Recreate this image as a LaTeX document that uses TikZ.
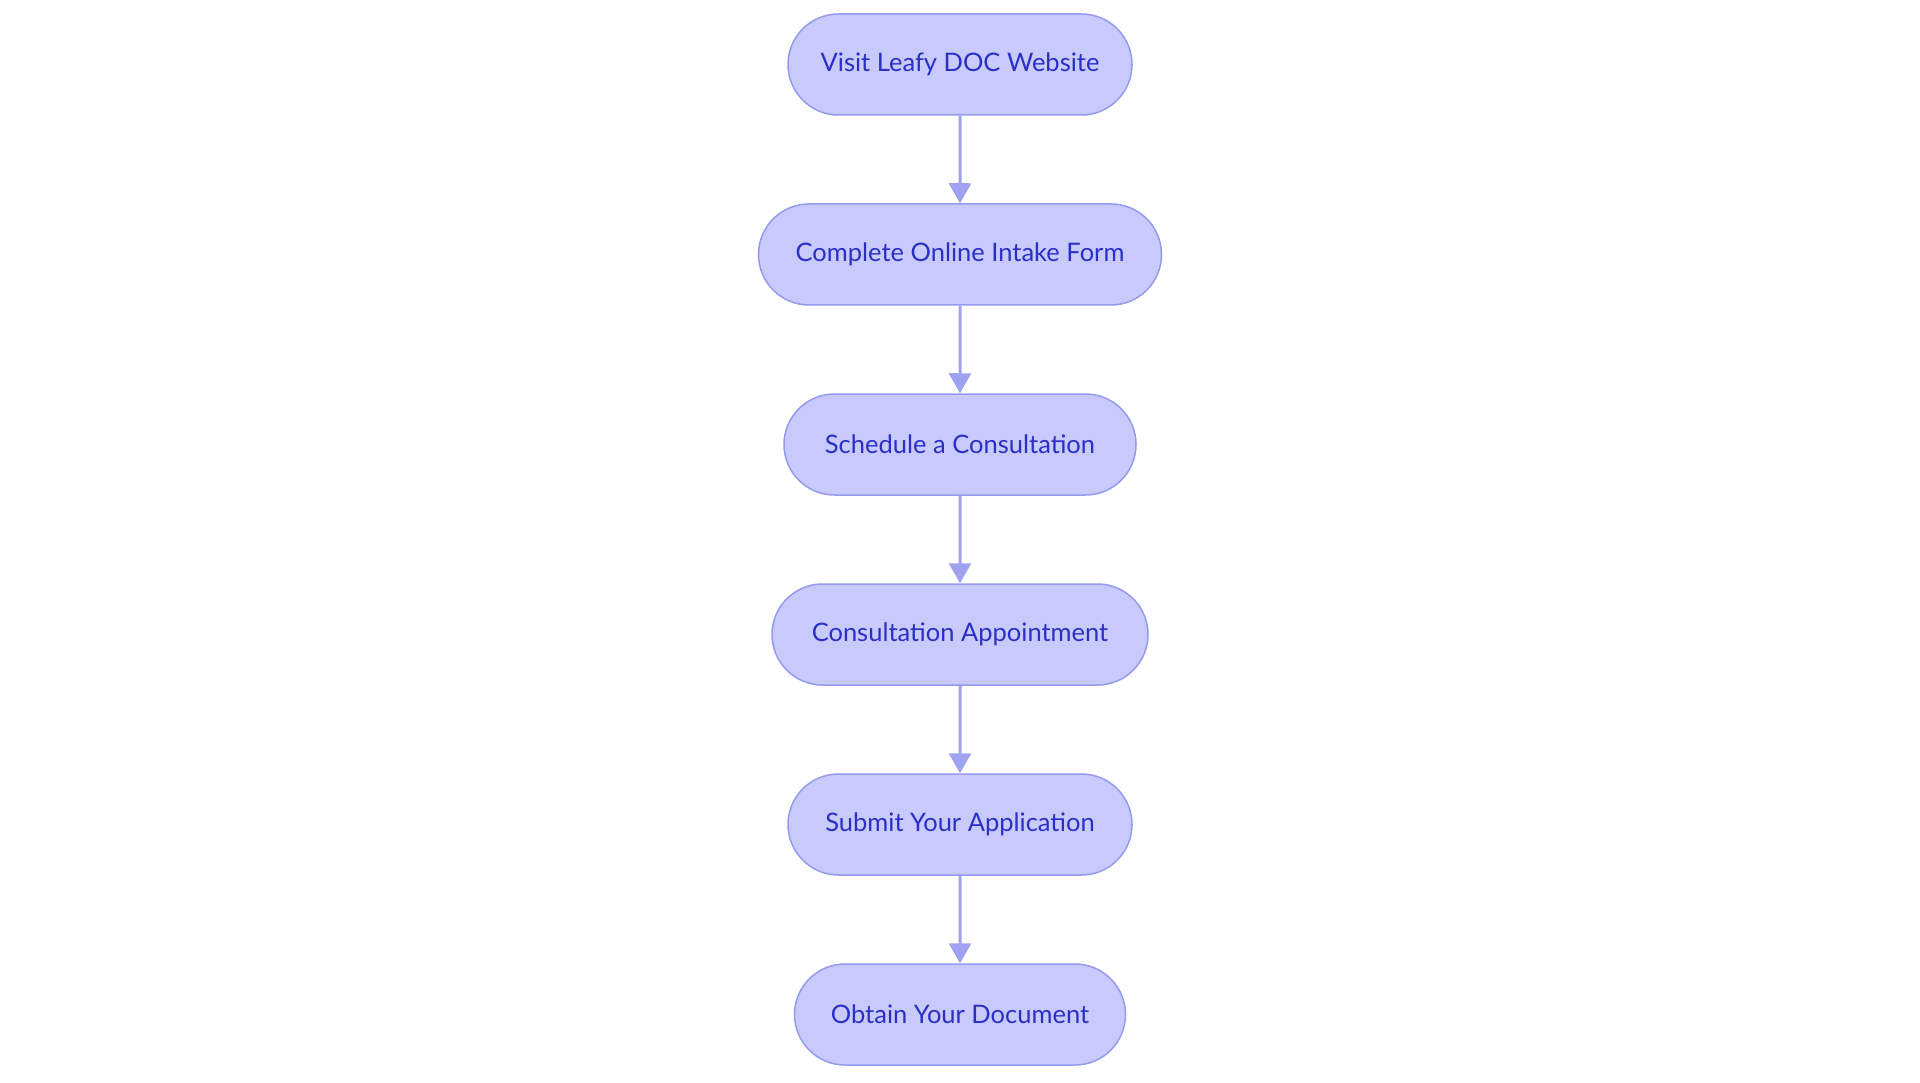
\documentclass[tikz,border=0pt]{standalone}
\usepackage{fontspec}
\setmainfont{Lato}
\usetikzlibrary{arrows.meta,shapes.misc}
\definecolor{boxfill}{HTML}{C9CAFC}
\definecolor{boxline}{HTML}{959AEE}
\definecolor{arrowcol}{HTML}{9EA2F0}
\definecolor{txtcol}{HTML}{2A2FC6}
\tikzset{
  stepbox/.style={rounded rectangle, draw=boxline, line width=1.5pt, fill=boxfill,
    minimum height=101pt, text=txtcol, font=\fontsize{25.5}{30}\selectfont, inner sep=0pt},
  flowarrow/.style={draw=arrowcol, line width=3pt, -{Triangle[width=22pt,length=20pt]}}
}
\begin{document}
\begin{tikzpicture}[x=1pt,y=1pt]
\useasboundingbox (0,0) rectangle (1920,-1083);
\node[stepbox, minimum width=344pt] (n1) at (960,-64.5) {\raisebox{-1pt}{Visit Leafy DOC Website}};
\node[stepbox, minimum width=403pt] (n2) at (960,-254.5) {\raisebox{-1pt}{Complete Online Intake Form}};
\node[stepbox, minimum width=352pt] (n3) at (960,-444.5) {\raisebox{-1pt}{Schedule a Consultation}};
\node[stepbox, minimum width=376pt] (n4) at (960,-634.5) {\raisebox{-1pt}{Consultation Appointment}};
\node[stepbox, minimum width=344pt] (n5) at (960,-824.5) {\raisebox{-1pt}{Submit Your Application}};
\node[stepbox, minimum width=331pt] (n6) at (960,-1014.5) {\raisebox{-1pt}{Obtain Your Document}};
\draw[flowarrow] (n1) -- (n2);
\draw[flowarrow] (n2) -- (n3);
\draw[flowarrow] (n3) -- (n4);
\draw[flowarrow] (n4) -- (n5);
\draw[flowarrow] (n5) -- (n6);
\end{tikzpicture}
\end{document}
